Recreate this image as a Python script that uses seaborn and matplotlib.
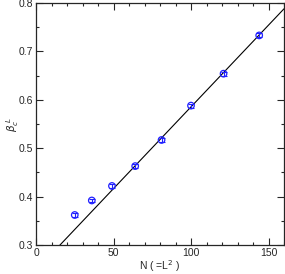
import numpy as np
import pandas as pd
import matplotlib
matplotlib.use("Agg")
import matplotlib.pyplot as plt
from matplotlib.ticker import MultipleLocator
import seaborn as sns

N = [25, 36, 49, 64, 81, 100, 121, 144]
beta = [0.362, 0.392, 0.422, 0.463, 0.517, 0.588, 0.654, 0.733]
beta_err = [0.004, 0.004, 0.004, 0.004, 0.004, 0.004, 0.004, 0.004]
fit_slope = 0.003377
fit_intercept = 0.2477
x_ticks = [0, 50, 100, 150]
y_ticks = [0.3, 0.4, 0.5, 0.6, 0.7, 0.8]

sns.set_style("ticks")
plt.rcParams['font.family'] = ['Liberation Sans', 'DejaVu Sans']

fig = plt.figure(figsize=(2.85, 2.74), dpi=100)
ax = fig.add_axes([36/285, 29/274, 248/285, 242/274])

fit_x = np.array([0, 160])
fit_df = pd.DataFrame({"N": fit_x, "beta": fit_intercept + fit_slope * fit_x})
sns.lineplot(data=fit_df, x="N", y="beta", ax=ax, color="black", lw=0.8)

df = pd.DataFrame({"N": N, "beta": beta, "err": beta_err})
ax.errorbar(df["N"], df["beta"], yerr=df["err"], fmt="none", ecolor="#2020ff",
            elinewidth=0.8, capsize=2, capthick=0.8)
sns.scatterplot(data=df, x="N", y="beta", ax=ax, marker="o", s=22,
                facecolor="none", edgecolor="#2020ff", linewidth=0.9, zorder=5)

ax.set_xlim(0, 160)
ax.set_ylim(0.3, 0.8)
ax.set_xticks(x_ticks)
ax.set_yticks(y_ticks)
ax.set_yticklabels([f"{v:.1f}" for v in y_ticks])
ax.xaxis.set_minor_locator(MultipleLocator(10))
ax.yaxis.set_minor_locator(MultipleLocator(0.05))
ax.tick_params(which="both", direction="in", top=True, right=True, labelsize=7.5, width=0.8, pad=2)
ax.tick_params(which="major", length=5)
ax.tick_params(which="minor", length=2.5)
for s in ax.spines.values():
    s.set_linewidth(0.9)
ax.set_xlabel(r"N ( =L$^2$ )", fontsize=7.5)
ax.set_ylabel(r"$\beta_c^{\ L}$", fontsize=7.5)
ax.xaxis.set_label_coords(0.5, -0.087)
ax.yaxis.set_label_coords(-0.093, 0.5)
ax.xaxis.label.set_verticalalignment("center")
ax.yaxis.label.set_verticalalignment("center")

fig.savefig("out.png", dpi=100)
